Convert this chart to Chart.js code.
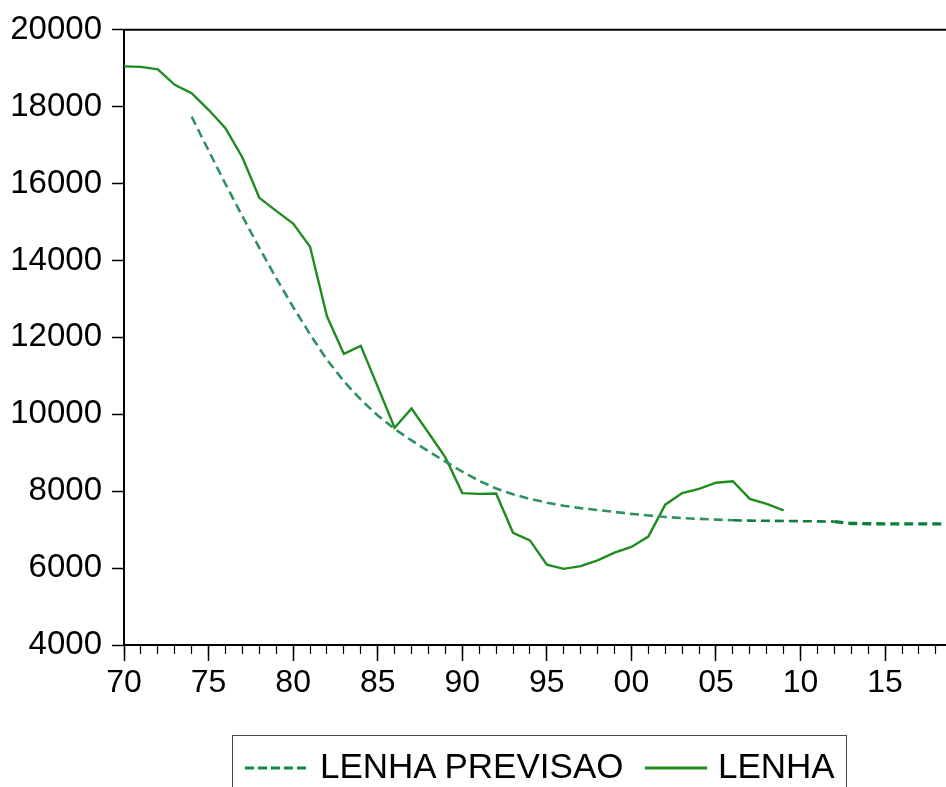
<!DOCTYPE html>
<html>
<head>
<meta charset="utf-8">
<script src="https://cdn.jsdelivr.net/npm/chart.js@4.4.1/dist/chart.umd.min.js"></script>
<style>
  html, body { margin: 0; padding: 0; background: #fff; overflow: hidden; }
  #wrap { position: relative; width: 946px; height: 787px; }
  #chart { position: absolute; left: 0; top: 0; }
  #legend {
    position: absolute; left: 232px; top: 735px; width: 615px; height: 80px;
    border: 1.5px solid #444; box-sizing: border-box;
    font-family: "Liberation Sans", Arial, sans-serif; font-size: 35px; color: #000;
  }
  #legend span { position: absolute; top: 10px; line-height: 40px; white-space: nowrap; }
  #legend svg { position: absolute; top: 29px; }
</style>
</head>
<body>
<div id="wrap">
  <canvas id="chart" width="946" height="787"></canvas>
  <div id="legend">
    <svg style="left:12px" width="62" height="6"><line x1="0" y1="3" x2="62" y2="3" stroke="#0E8A45" stroke-width="3" stroke-dasharray="9,4"/></svg>
    <span style="left:87px">LENHA PREVISAO</span>
    <svg style="left:412px" width="62" height="6"><line x1="0" y1="3" x2="62" y2="3" stroke="#1E8C1E" stroke-width="3"/></svg>
    <span style="left:485px">LENHA</span>
  </div>
</div>
<script>
// --------------------------------------------------
// Data
// --------------------------------------------------
const lenhaYears = [
  1970, 1971, 1972, 1973, 1974, 1975, 1976, 1977, 1978, 1979,
  1980, 1981, 1982, 1983, 1984, 1985, 1986, 1987, 1988, 1989,
  1990, 1991, 1992, 1993, 1994, 1995, 1996, 1997, 1998, 1999,
  2000, 2001, 2002, 2003, 2004, 2005, 2006, 2007, 2008, 2009
];
const lenhaValues = [
  19050, 19035, 18970, 18570, 18350, 17920, 17440, 16680, 15630, 15290,
  14960, 14360, 12550, 11570, 11780, 10720, 9650, 10150, 9520, 8880,
  7950, 7930, 7940, 6920, 6720, 6090, 5980, 6050, 6200, 6400,
  6550, 6820, 7650, 7950, 8060, 8220, 8260, 7800, 7670, 7500
];

const previsaoYears = [
  1974, 1975, 1976, 1977, 1978, 1979, 1980, 1981, 1982, 1983,
  1984, 1985, 1986, 1987, 1988, 1989, 1990, 1991, 1992, 1993,
  1994, 1995, 1996, 1997, 1998, 1999, 2000, 2001, 2002, 2003,
  2004, 2005, 2006, 2007, 2008, 2009, 2010, 2011, 2012, 2013,
  2014, 2015, 2016, 2017, 2018, 2019
];
const previsaoValues = [
  17740, 16860, 15990, 15150, 14330, 13540, 12790, 12080, 11420, 10860,
  10380, 9970, 9620, 9320, 9040, 8770, 8510, 8270, 8070, 7920,
  7800, 7700, 7620, 7560, 7510, 7460, 7410, 7370, 7330, 7300,
  7280, 7260, 7245, 7235, 7230, 7225, 7220, 7215, 7210, 7160,
  7155, 7150, 7150, 7150, 7150, 7150
];

const yTicks = [4000, 6000, 8000, 10000, 12000, 14000, 16000, 18000, 20000];

const X_MIN = 1970;
const X_MAX = 2018.6;

// --------------------------------------------------
// Chart
// --------------------------------------------------
const fontFamily = "'Liberation Sans', Arial, sans-serif";

// top frame line of the plot box
const frameTop = {
  id: "frameTop",
  afterDraw(chart) {
    const { ctx, chartArea } = chart;
    ctx.save();
    ctx.strokeStyle = "#000";
    ctx.lineWidth = 2;
    ctx.beginPath();
    ctx.moveTo(chartArea.left, chartArea.top);
    ctx.lineTo(chartArea.right, chartArea.top);
    ctx.stroke();
    ctx.restore();
  },
};

new Chart(document.getElementById("chart"), {
  type: "line",
  data: {
    datasets: [
      {
        label: "LENHA PREVISAO",
        data: previsaoYears.map((y, i) => ({ x: y, y: previsaoValues[i] })),
        borderColor: "#2F9160",
        borderWidth: 2.6,
        borderDash: [9, 5],
        pointRadius: 0,
        tension: 0,
        segment: {
          borderColor: (c) => (c.p0.parsed.x >= 2006 ? "#0B7F3A" : undefined),
          borderWidth: (c) => (c.p0.parsed.x >= 2012 ? 3.4 : undefined),
        },
      },
      {
        label: "LENHA",
        data: lenhaYears.map((y, i) => ({ x: y, y: lenhaValues[i] })),
        borderColor: "#1E8C1E",
        borderWidth: 2.4,
        pointRadius: 0,
        tension: 0,
      },
    ],
  },
  options: {
    responsive: false,
    animation: false,
    devicePixelRatio: 1,
    layout: { padding: { top: 27, left: 0, right: 0, bottom: 0 } },
    plugins: {
      legend: { display: false },
      tooltip: { enabled: false },
    },
    scales: {
      x: {
        type: "linear",
        position: "bottom",
        weight: 1,
        min: X_MIN,
        max: X_MAX,
        afterFit: (s) => { s.height = 142; },
        border: { display: true, color: "#000", width: 2 },
        grid: { drawOnChartArea: false, drawTicks: true, tickLength: 16, tickWidth: 1.5, tickColor: "#000" },
        ticks: {
          stepSize: 5,
          includeBounds: false,
          autoSkip: false,
          maxRotation: 0,
          padding: 3,
          color: "#000",
          font: { family: fontFamily, size: 32 },
          callback: (v) => String(v % 100).padStart(2, "0"),
        },
      },
      xMinor: {
        type: "linear",
        position: "bottom",
        weight: 0,
        min: X_MIN,
        max: X_MAX,
        afterFit: (s) => { s.height = 0; },
        border: { display: false },
        grid: { drawOnChartArea: false, drawTicks: true, tickLength: 9, tickWidth: 1.2, tickColor: "#000" },
        ticks: {
          stepSize: 1,
          includeBounds: false,
          autoSkip: false,
          maxRotation: 0,
          padding: 0,
          font: { size: 1 },
          callback: () => "",
        },
      },
      y: {
        min: 4000,
        max: 20000,
        afterFit: (s) => { s.width = 124; },
        afterBuildTicks: (s) => { s.ticks = yTicks.map((v) => ({ value: v })); },
        border: { display: true, color: "#000", width: 2 },
        grid: { drawOnChartArea: false, drawTicks: true, tickLength: 12, tickWidth: 1.5, tickColor: "#000" },
        ticks: {
          padding: 10,
          color: "#000",
          font: { family: fontFamily, size: 33 },
          callback: (v) => String(v),
        },
      },
    },
  },
  plugins: [frameTop],
});
</script>
</body>
</html>
